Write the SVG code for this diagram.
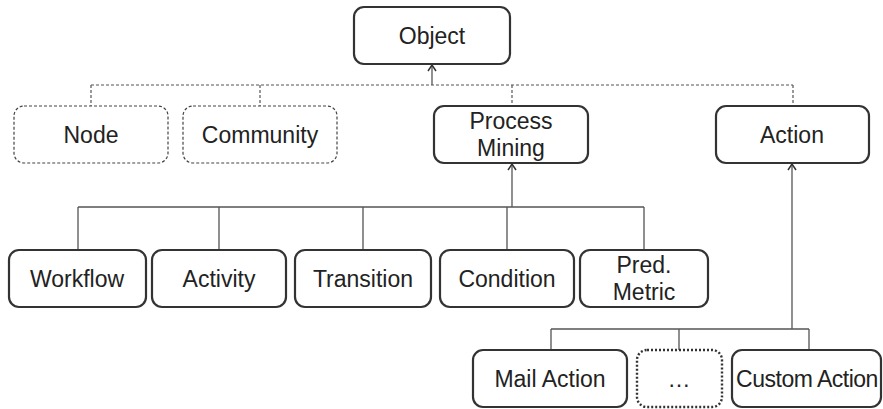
<svg xmlns="http://www.w3.org/2000/svg" width="883" height="409" viewBox="0 0 883 409">
  <defs>
    <marker id="arrow" viewBox="0 0 10 10" refX="9" refY="5" markerWidth="10" markerHeight="10" markerUnits="userSpaceOnUse" orient="auto">
      <path d="M3,1 L9,5 L3,9" fill="none" stroke="#333" stroke-width="1.5"/>
    </marker>
    <style>
      .box { fill: #fff; stroke: #333; stroke-width: 2.2; }
      .dashed { fill: #fff; stroke: #444; stroke-width: 1.2; stroke-dasharray: 3 2; }
      .dotted { fill: #fff; stroke: #333; stroke-width: 2.4; stroke-dasharray: 2 2; }
      .lbl { font-family: "Liberation Sans", Arial, sans-serif; font-size: 23px; fill: #222; text-anchor: middle; }
      .line { fill: none; stroke: #555; stroke-width: 1.3; }
      .dline { fill: none; stroke: #555; stroke-width: 1.2; stroke-dasharray: 3 2; }
    </style>
  </defs>

  <!-- connectors -->
  <g id="connectors">
    <!-- Object level (dashed bus) -->
    <path class="dline" d="M91,85 H793 M91,85 V106 M260,85 V106 M512,85 V106 M793,85 V106"/>
    <path class="line" d="M432,85 V65" marker-end="url(#arrow)"/>
    <!-- Process Mining children -->
    <path class="line" d="M78,207 H644 M78,207 V250 M219,207 V250 M363,207 V250 M507,207 V250 M644,207 V250"/>
    <path class="line" d="M512,207 V164" marker-end="url(#arrow)"/>
    <!-- Action children -->
    <path class="line" d="M551,329 H809 M551,329 V350 M679,329 V350 M809,329 V350"/>
    <path class="line" d="M792,329 V164" marker-end="url(#arrow)"/>
  </g>

  <g id="object">
    <rect class="box" x="354" y="7" width="156" height="57" rx="10"/>
    <text class="lbl" x="432" y="44">Object</text>
  </g>

  <g id="node">
    <rect class="dashed" x="14" y="106" width="154" height="57" rx="10"/>
    <text class="lbl" x="91" y="143">Node</text>
  </g>
  <g id="community">
    <rect class="dashed" x="183" y="106" width="154" height="57" rx="10"/>
    <text class="lbl" x="260" y="143">Community</text>
  </g>
  <g id="process-mining">
    <rect class="box" x="434" y="106" width="154" height="57" rx="10"/>
    <text class="lbl" x="511" y="129">Process</text>
    <text class="lbl" x="511" y="156">Mining</text>
  </g>
  <g id="action">
    <rect class="box" x="716" y="106" width="153" height="57" rx="10"/>
    <text class="lbl" x="792" y="143">Action</text>
  </g>

  <g id="workflow">
    <rect class="box" x="9" y="250" width="137" height="57" rx="10"/>
    <text class="lbl" x="77" y="287">Workflow</text>
  </g>
  <g id="activity">
    <rect class="box" x="152" y="250" width="134" height="57" rx="10"/>
    <text class="lbl" x="219" y="287">Activity</text>
  </g>
  <g id="transition">
    <rect class="box" x="295" y="250" width="136" height="57" rx="10"/>
    <text class="lbl" x="363" y="287">Transition</text>
  </g>
  <g id="condition">
    <rect class="box" x="440" y="250" width="134" height="57" rx="10"/>
    <text class="lbl" x="507" y="287">Condition</text>
  </g>
  <g id="pred-metric">
    <rect class="box" x="580" y="250" width="128" height="57" rx="10"/>
    <text class="lbl" x="644" y="273">Pred.</text>
    <text class="lbl" x="644" y="300">Metric</text>
  </g>

  <g id="mail-action">
    <rect class="box" x="473" y="350" width="154" height="57" rx="10"/>
    <text class="lbl" x="550" y="387">Mail Action</text>
  </g>
  <g id="more-actions">
    <rect class="dotted" x="637" y="350" width="85" height="57" rx="10"/>
    <text class="lbl" x="679" y="387">…</text>
  </g>
  <g id="custom-action">
    <rect class="box" x="732" y="350" width="149" height="57" rx="10"/>
    <text class="lbl" x="807" y="387" letter-spacing="-0.5">Custom Action</text>
  </g>
</svg>
